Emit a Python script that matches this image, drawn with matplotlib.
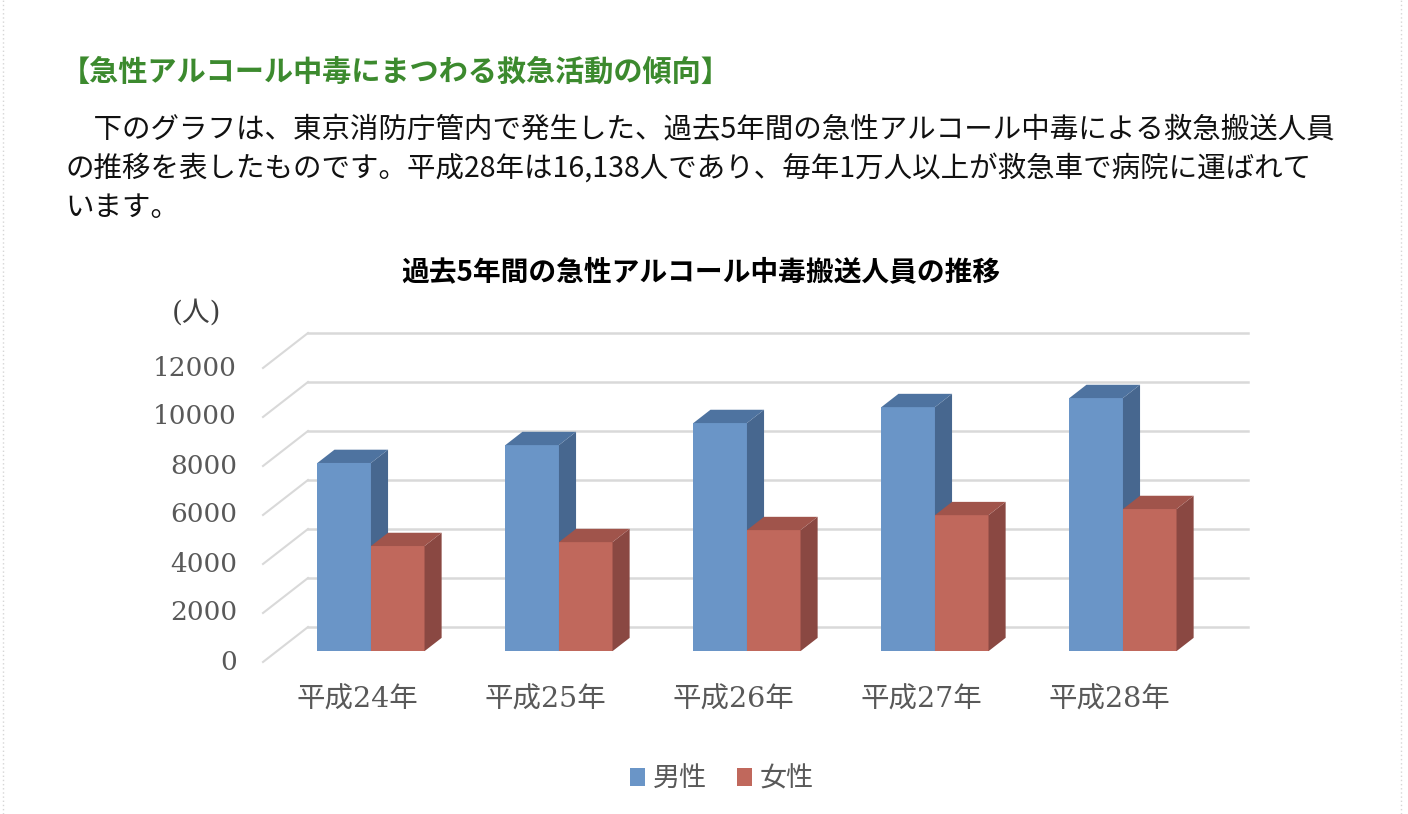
import matplotlib
matplotlib.use("Agg")
import matplotlib.pyplot as plt
from matplotlib.patches import Polygon, Patch
from matplotlib.lines import Line2D

plt.rcParams['font.family'] = ['Noto Sans CJK JP', 'DejaVu Sans']

# ---------------- data ----------------
categories = ['平成24年', '平成25年', '平成26年', '平成27年', '平成28年']
male = [7680, 8410, 9310, 9960, 10330]
female = [4290, 4450, 4940, 5550, 5800]
series_names = ['男性', '女性']
yticks = [0, 2000, 4000, 6000, 8000, 10000, 12000]

page_heading = '【急性アルコール中毒にまつわる救急活動の傾向】'
body_lines = [
    '\u3000下のグラフは、東京消防庁管内で発生した、過去5年間の急性アルコール中毒による救急搬送人員',
    'の推移を表したものです。平成28年は16,138人であり、毎年1万人以上が救急車で病院に運ばれて',
    'います。',
]
chart_title = '過去5年間の急性アルコール中毒搬送人員の推移'
unit_label = '(人)'

# ---------------- styles ----------------
W, H, DPI = 1408, 814, 100
front_col = ['#6A95C7', '#C0685C']
side_col = ['#47678F', '#8A4842']
top_col = ['#4E73A0', '#A0544B']
grid_col = '#D9D9D9'
label_col = '#595959'

fig = plt.figure(figsize=(W / DPI, H / DPI), dpi=DPI)
fig.patch.set_facecolor('white')

# layout in pixels
ax_left, ax_right = 263, 1203
ax_bottom, ax_top = 662, 300
px_per_unit = 0.0245          # vertical pixels per person
depth_px = (45, 35)           # oblique offset of back wall
bar_front, bar_back = 0.31, 0.69
bar_w = 0.285

ax = fig.add_axes([ax_left / W, 1 - ax_bottom / H,
                   (ax_right - ax_left) / W, (ax_bottom - ax_top) / H])
n = len(categories)
ymax = (ax_bottom - ax_top) / px_per_unit
ax.set_xlim(0, n)
ax.set_ylim(0, ymax)
ax.axis('off')

xu = n / (ax_right - ax_left)     # data x per pixel
yu = 1 / px_per_unit              # data y per pixel


def off(f):
    return f * depth_px[0] * xu, f * depth_px[1] * yu


# back wall gridlines + left wall diagonals
bx, by = off(1.0)
for v in yticks:
    ax.add_line(Line2D([bx, n + bx], [v + by, v + by], color=grid_col, lw=1.8,
                       clip_on=False, zorder=1))
    ax.add_line(Line2D([0, bx], [v, v + by], color=grid_col, lw=1.5,
                       clip_on=False, zorder=1))

fx, fy = off(bar_front)
kx, ky = off(bar_back)
for i in range(n):
    c = i + 0.5
    for s, vals in enumerate([male, female]):
        v = vals[i]
        x0 = c - bar_w + s * bar_w
        x1 = x0 + bar_w
        ax.bar(x0 + fx, v, width=bar_w, bottom=fy, align='edge',
               color=front_col[s], zorder=3 + 2 * i + s, linewidth=0,
               label=series_names[s] if i == 0 else None)
        side = [(x1 + fx, fy), (x1 + kx, ky), (x1 + kx, v + ky), (x1 + fx, v + fy)]
        top = [(x0 + fx, v + fy), (x0 + kx, v + ky), (x1 + kx, v + ky), (x1 + fx, v + fy)]
        ax.add_patch(Polygon(side, closed=True, facecolor=side_col[s], edgecolor='none',
                             zorder=3 + 2 * i + s, clip_on=False))
        ax.add_patch(Polygon(top, closed=True, facecolor=top_col[s], edgecolor='none',
                             zorder=3 + 2 * i + s, clip_on=False))

# y tick labels
for v in yticks:
    ax.text(-26 * xu, v, f'{v}', ha='right', va='center', fontsize=19,
            family=['DejaVu Serif'], color=label_col, clip_on=False)

# category labels
for i, cat in enumerate(categories):
    ax.text(i + 0.5, -38 * yu, cat, ha='center', va='center', fontsize=20.5,
            family=['DejaVu Serif', 'Noto Sans CJK JP'], color=label_col, clip_on=False)

# unit label
fig.text(197 / W, 1 - 313 / H, unit_label, ha='center', va='center', fontsize=20,
         family=['DejaVu Serif', 'Noto Sans CJK JP'], color='#404040')

# chart title
fig.text(701 / W, 1 - 273 / H, chart_title, ha='center', va='center', fontsize=20,
         weight='bold', color='black')

# legend
handles = [Patch(facecolor=front_col[0]), Patch(facecolor=front_col[1])]
fig.legend(handles, series_names, loc='center', bbox_to_anchor=(722 / W, 1 - 779 / H),
           ncol=2, frameon=False, handlelength=0.55, handleheight=0.6,
           handletextpad=0.3, columnspacing=1.1,
           prop={'family': ['Noto Sans CJK JP'], 'size': 19.5}, labelcolor=label_col)

# page text
fig.text(61 / W, 1 - 72 / H, page_heading, ha='left', va='center', fontsize=21,
         weight='bold', color='#3C8A2E')
for k, line in enumerate(body_lines):
    fig.text(65 / W, 1 - (130 + 39 * k) / H, line, ha='left', va='center',
             fontsize=20.5, color='#111111')

# dotted page borders
for xb in (3, 1401):
    fig.add_artist(Line2D([xb / W, xb / W], [0, 1], color='#D6D6D6', lw=1,
                          linestyle=(0, (1, 2)), transform=fig.transFigure))

fig.savefig('out.png', dpi=DPI)
